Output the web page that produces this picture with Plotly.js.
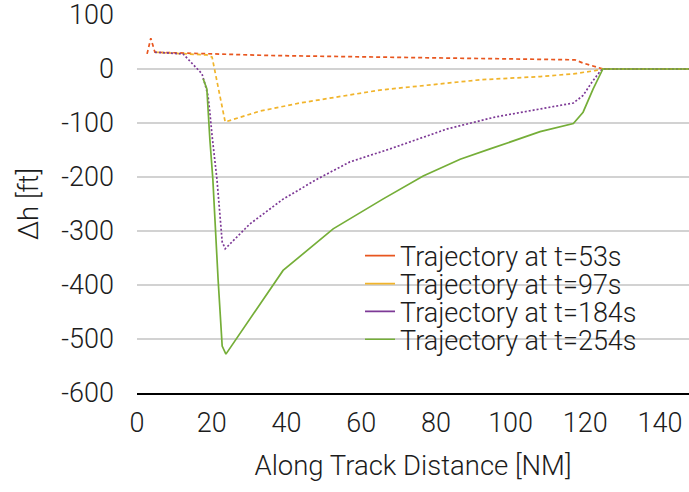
<!DOCTYPE html>
<html>
<head>
<meta charset="utf-8">
<script src="https://cdn.plot.ly/plotly-3.0.1.min.js"></script>
<style>html,body{margin:0;padding:0;background:#fff;}#chart{width:689px;height:492px;}</style>
</head>
<body>
<div id="chart"></div>
<script>
// Along-track distance [NM] and altitude deviation [ft]
const redX = [2.7, 3.7, 4.8, 35.6, 65.0, 117.2, 119.4, 122.6, 124.7, 148];
const redY = [28, 57, 31, 25, 22, 17, 11, 4, 0, 0];

const yellowX = [4.8, 11.5, 18.7, 20.1, 23.4, 23.6, 32.9, 43.6, 65.0, 91.8, 107.9, 116.8, 122.6, 124.7, 148];
const yellowY = [31, 29, 26, 22, -96, -98, -78, -63, -39, -20, -14, -9, -3, 0, 0];

const purpleX = [4.8, 12.3, 13.7, 16.3, 17.4, 18.2, 19.0, 19.5, 20.1, 21.4, 22.8, 23.6, 30.2, 39.1, 48.2, 57.0, 67.7, 83.0, 95.8, 107.9, 116.8, 119.4, 121.8, 124.0, 124.7, 148];
const purpleY = [31, 28, 18, 0, -9, -28, -49, -80, -124, -204, -320, -333, -287, -241, -204, -172, -148, -111, -89, -74, -63, -49, -24, -4, 0, 0];

const greenX = [17.7, 18.7, 19.5, 20.3, 21.7, 22.8, 23.8, 30.2, 39.1, 52.5, 65.8, 76.6, 86.5, 94.5, 100.6, 107.9, 116.8, 119.4, 122.1, 124.5, 124.7, 148];
const greenY = [-18, -37, -130, -204, -389, -513, -528, -463, -373, -296, -241, -198, -167, -148, -133, -116, -101, -80, -37, -3, 0, 0];

const seriesNames = ['Trajectory at t=53s', 'Trajectory at t=97s', 'Trajectory at t=184s', 'Trajectory at t=254s'];
const colors = ['#E8561F', '#F1B42B', '#7D3996', '#75AE38'];

const xTicks = [0, 20, 40, 60, 80, 100, 120, 140];
const yTicks = [100, 0, -100, -200, -300, -400, -500, -600];

const fam = 'Roboto, "Liberation Sans", sans-serif';
const tickFont = {family: fam, size: 27, color: '#1c1c1c', weight: 300};
const titleFont = {family: fam, size: 27.5, color: '#1c1c1c', weight: 300};
const legendFont = {family: fam, size: 27, color: '#1c1c1c', weight: 300};

const traces = [
  {x: redX, y: redY, mode: 'lines', line: {color: colors[0], width: 1.7, dash: '4px,3px'}, showlegend: false, hoverinfo: 'skip'},
  {x: yellowX, y: yellowY, mode: 'lines', line: {color: colors[1], width: 1.7, dash: '4px,3px'}, showlegend: false, hoverinfo: 'skip'},
  {x: purpleX, y: purpleY, mode: 'lines', line: {color: colors[2], width: 1.7, dash: '2px,2px'}, showlegend: false, hoverinfo: 'skip'},
  {x: greenX, y: greenY, mode: 'lines', line: {color: colors[3], width: 1.7}, showlegend: false, hoverinfo: 'skip'}
];
// legend entries (solid samples as in the reference), one legend per row
const legendIds = ['legend', 'legend2', 'legend3', 'legend4'];
seriesNames.forEach((n, i) => {
  traces.push({x: [null], y: [null], mode: 'lines', name: n, legend: legendIds[i],
               line: {color: colors[i], width: 1.7}, showlegend: true});
});

const rowY = [0.362, 0.288, 0.215, 0.141];
const layout = {
  width: 689, height: 492,
  margin: {l: 137, r: 0, t: 15, b: 99},
  paper_bgcolor: '#fff', plot_bgcolor: '#fff',
  font: tickFont,
  showlegend: true,
  xaxis: {
    range: [0, 147.75], tickvals: xTicks, ticktext: xTicks.map(String),
    showgrid: false, zeroline: false, showline: true, linecolor: '#000', linewidth: 1.5,
    ticks: '', ticklabelstandoff: 5, tickfont: tickFont, ticklabeloverflow: 'allow',
    title: {text: 'Along Track Distance [NM]', font: titleFont, standoff: 18}
  },
  yaxis: {
    range: [-600, 100], tickvals: yTicks, ticktext: yTicks.map(String),
    showgrid: true, gridcolor: '#d2d2d2', gridwidth: 1.5, zeroline: false, showline: false,
    ticks: '', ticklabelstandoff: 22, tickfont: tickFont, ticklabeloverflow: 'allow',
    title: {text: 'Δh [ft]', font: titleFont, standoff: 14}
  }
};
legendIds.forEach((id, i) => {
  layout[id] = {x: 0.404, y: rowY[i], xanchor: 'left', yanchor: 'middle', font: legendFont,
                bgcolor: 'rgba(0,0,0,0)', itemwidth: 30};
});

Plotly.newPlot('chart', traces, layout, {staticPlot: true, displayModeBar: false});
</script>
</body>
</html>
